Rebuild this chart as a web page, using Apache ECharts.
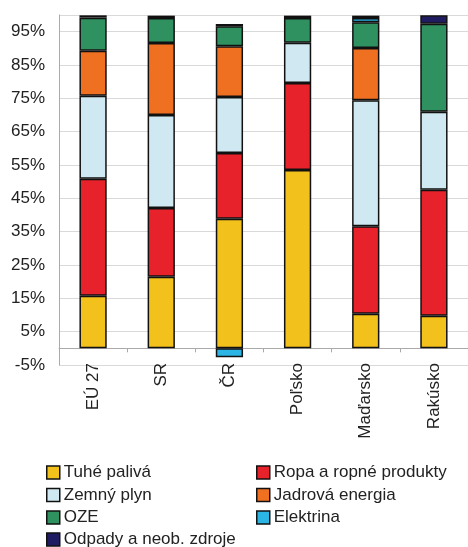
<!DOCTYPE html>
<html>
<head>
<meta charset="utf-8">
<script src="https://cdn.jsdelivr.net/npm/echarts@6/dist/echarts.min.js"></script>
<style>
  html, body { margin: 0; padding: 0; background: #fff; }
  #chart { width: 468px; height: 547px; }
</style>
</head>
<body>
<div id="chart"></div>
<script>
// data (share of energy sources, %)
var countries = ['EÚ 27', 'SR', 'ČR', 'Poľsko', 'Maďarsko', 'Rakúsko'];
var tuhe      = [15.8, 21.5, 38.9, 53.5, 10.4, 9.8];
var ropa      = [35.1, 20.6, 19.7, 26.1, 26.2, 37.8];
var plyn      = [24.9, 27.9, 16.8, 12.1, 37.8, 23.4];
var jadro     = [13.5, 21.6, 15.2, null, 15.7, null];
var oze       = [9.9, 7.5, 6.0, 7.4, 7.7, 26.4];
var elektrina = [null, null, -2.7, null, 1.3, null];
var odpady    = [0.7, 0.7, 0.7, 0.7, 0.7, 2.5];
var yTicks = { min: -5, max: 100, step: 10 };

var names = ['Tuhé palivá', 'Ropa a ropné produkty', 'Zemný plyn', 'Jadrová energia',
             'OZE', 'Elektrina', 'Odpady a neob. zdroje'];
var values = [tuhe, ropa, plyn, jadro, oze, elektrina, odpady];
var colors = ['#F2C11C', '#E8222B', '#CFE8F1', '#F07022', '#2F9160', '#2BB5E5', '#201C62'];

var font = 'Liberation Sans, Arial, sans-serif';

var series = names.map(function (n, i) {
  return {
    name: n,
    type: 'bar',
    stack: 'total',
    barWidth: '40%',
    data: values[i],
    itemStyle: { color: colors[i], borderColor: '#111', borderWidth: 1.5 }
  };
});

// legend: two columns, last row on its own
function legendBlock(left, top, items) {
  return {
    orient: 'vertical',
    left: left,
    top: top,
    padding: 0,
    itemWidth: 13,
    itemHeight: 13,
    itemGap: 5.5,
    icon: 'rect',
    data: items,
    itemStyle: { borderColor: '#111', borderWidth: 1.5 },
    textStyle: { fontFamily: font, fontSize: 17, color: '#222', padding: [0, 0, 0, -1] }
  };
}

var myChart = echarts.init(document.getElementById('chart'));
var option = {
  animation: false,
  grid: { left: 59, right: -9, top: 15, bottom: 182, containLabel: false },
  legend: [
    legendBlock(46, 464, [names[0], names[2], names[4]]),
    legendBlock(256, 464, [names[1], names[3], names[5]]),
    legendBlock(46, 531, [names[6]])
  ],
  xAxis: {
    type: 'category',
    data: countries,
    axisLine: { onZero: true, lineStyle: { color: '#aaa', width: 1 } },
    axisTick: { show: true, length: 4, lineStyle: { color: '#aaa' } },
    axisLabel: { rotate: 90, margin: -2, fontFamily: font, fontSize: 17, color: '#222' }
  },
  yAxis: {
    type: 'value',
    min: yTicks.min,
    max: yTicks.max,
    interval: yTicks.step,
    axisLine: { show: true, lineStyle: { color: '#aaa' } },
    axisTick: { show: false },
    splitLine: { lineStyle: { color: '#d9d9d9', width: 1 } },
    axisLabel: {
      margin: 14,
      fontFamily: font,
      fontSize: 17,
      color: '#222',
      formatter: function (v) { return v === yTicks.max ? '' : v + '%'; }
    }
  },
  series: series
};
myChart.setOption(option);
</script>
</body>
</html>
